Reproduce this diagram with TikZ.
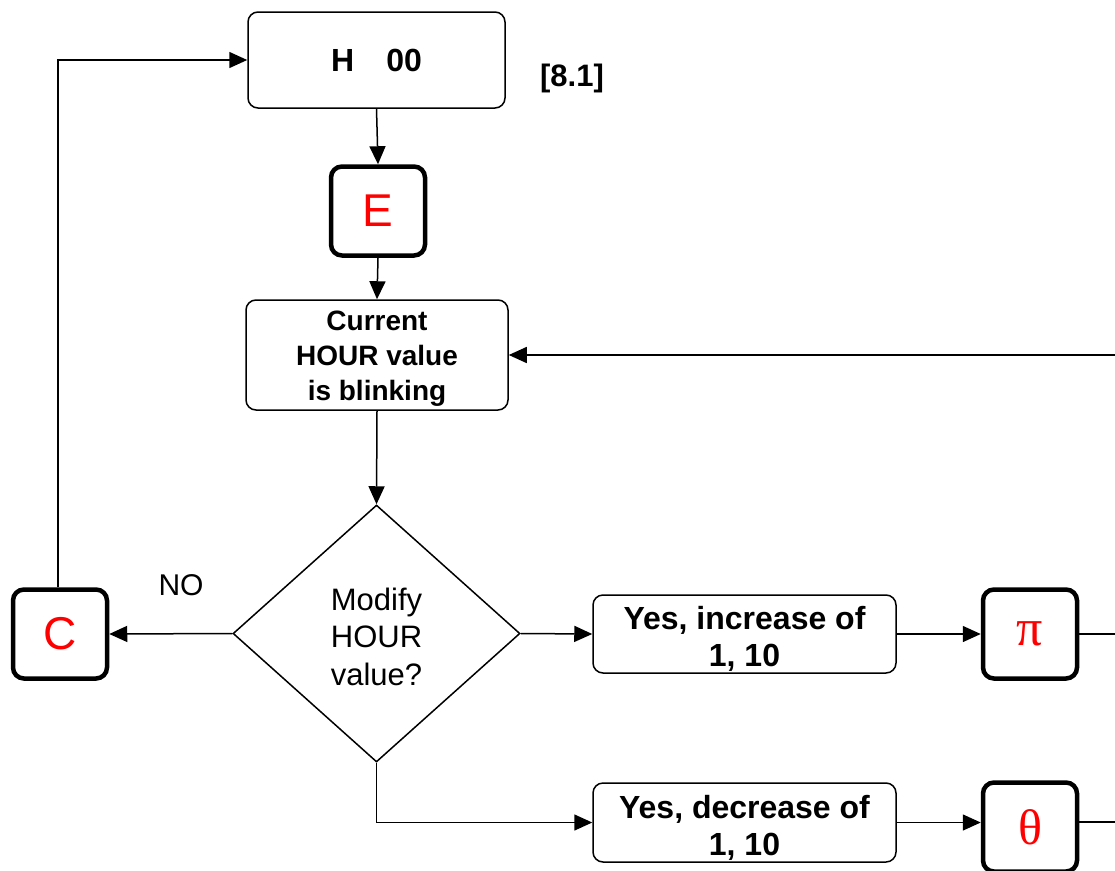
\documentclass[tikz,border=0pt]{standalone}
\usepackage{fontspec}
\setmainfont{Liberation Sans}
\newfontfamily\serifgreek{Liberation Serif}
\usetikzlibrary{arrows.meta,shapes.geometric}
\definecolor{keyred}{RGB}{255,0,0}
\tikzset{
  conn/.style={line width=1.5pt,-{Triangle[length=18pt,width=16pt]}},
  plain/.style={line width=1.5pt},
  textbox/.style={draw,line width=1.5pt,rounded corners=10pt,align=center,font=\fontsize{28}{35}\selectfont\bfseries,inner sep=0pt},
  keybox/.style={draw,line width=4.5pt,rounded corners=11pt,minimum width=94pt,minimum height=89pt,inner sep=0pt,text=keyred,font=\fontsize{46}{46}\selectfont},
  decision/.style={draw,line width=1.5pt,diamond,inner sep=0pt,minimum width=287pt,minimum height=257pt,align=center,font=\fontsize{31}{37.5}\selectfont},
}
\begin{document}
\begin{tikzpicture}[x=1pt,y=-1pt]
\useasboundingbox (0,0) rectangle (1115,870);
% nodes
\node[textbox,minimum width=257pt,minimum height=96pt,font=\fontsize{32}{32}\selectfont\bfseries] (h00) at (376.5,60) {H\hspace{32pt}00};
\node[font=\fontsize{31}{31}\selectfont\bfseries] (ref) at (572,78) {[8.1]};
\node[keybox] (e) at (378,211) {E};
\node[textbox,minimum width=262pt,minimum height=110pt] (cur) at (377,355) {\rule{0pt}{26.5pt}Current\\HOUR value\\is blinking};
\node[decision] (mod) at (376.5,633.5) {\rule{0pt}{29pt}Modify\\HOUR\\value?};
\node[font=\fontsize{30}{30}\selectfont] (no) at (181,585) {NO};
\node[keybox] (c) at (60,634) {C};
\node[textbox,minimum width=303pt,minimum height=78pt,font=\fontsize{32}{37}\selectfont\bfseries] (inc) at (744.5,634) {\rule{0pt}{33pt}Yes, increase of\\1, 10};
\node[textbox,minimum width=303pt,minimum height=79pt,font=\fontsize{32}{37}\selectfont\bfseries] (dec) at (744.5,822.5) {\rule{0pt}{33pt}Yes, decrease of\\1, 10};
\node[keybox,font=\fontsize{52}{52}\selectfont\serifgreek] (pi) at (1030,634) {π};
\node[keybox,font=\fontsize{50}{50}\selectfont\serifgreek] (th) at (1030,827) {θ};
\coordinate (rin) at (1115,355);
\coordinate (rpi) at (1115,634);
\coordinate (rth) at (1115,822);
\coordinate (cup) at (58,60);
\coordinate (mdown) at (376.5,822.5);
% connectors
\draw[conn] (h00.south) -- (e.north);
\draw[conn] (e.south) -- (cur.north);
\draw[conn] (rin) -- (cur.east);
\draw[conn] (cur.south) -- (mod.north);
\draw[conn] (mod.west) -- (c.east);
\draw[conn] (c.north -| cup) -- (cup) -- (h00.west);
\draw[conn] (mod.east) -- (inc.west);
\draw[conn] (inc.east) -- (pi.west);
\draw[plain] (pi.east) -- (rpi);
\draw[conn] (mod.south) -- (mdown) -- (dec.west);
\draw[conn] (dec.east) -- (dec.east -| th.west);
\draw[plain] (th.east |- rth) -- (rth);
\end{tikzpicture}
\end{document}
